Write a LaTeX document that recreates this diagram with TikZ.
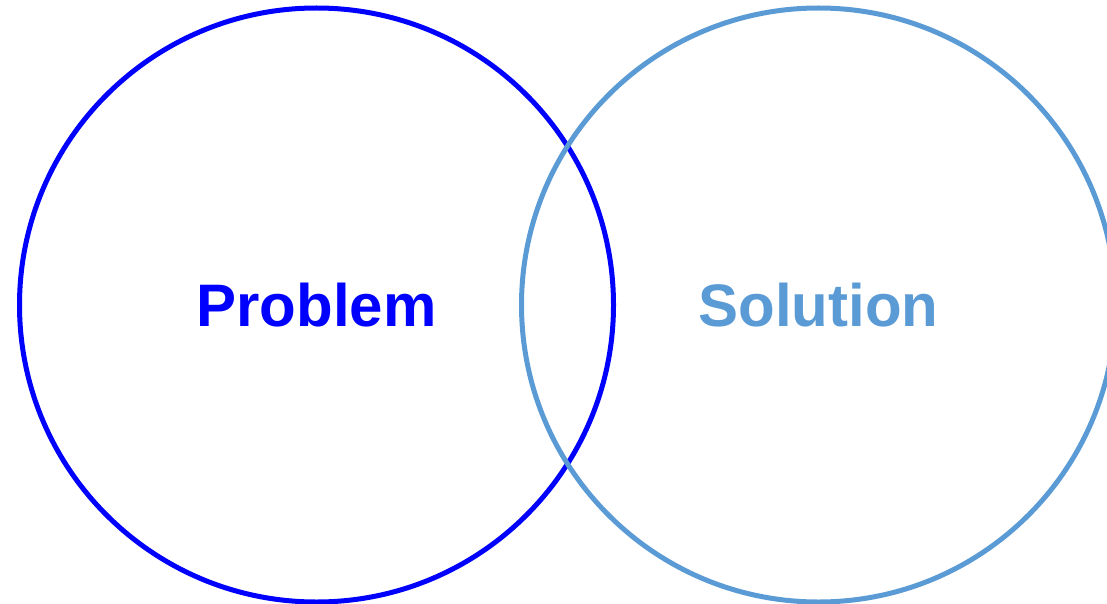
\documentclass[tikz,border=0pt]{standalone}
\usepackage{fontspec}
\setmainfont{Liberation Sans}
\definecolor{probblue}{RGB}{0,0,255}
\definecolor{solblue}{RGB}{91,155,213}
\begin{document}
\begin{tikzpicture}[x=1pt,y=-1pt,
  ring/.style={line width=5pt},
  label/.style={font=\fontsize{60}{60}\selectfont\bfseries, inner sep=0pt, anchor=base}]
\useasboundingbox (0,0) rectangle (1107,604);
\draw[ring, probblue] (316.5,305) circle[radius=297];
\draw[ring, solblue] (818.5,305) circle[radius=297];
\node[label, text=probblue] (problem) at (316.5,326) {Problem};
\node[label, text=solblue] (solution) at (818.5,326) {Solution};
\end{tikzpicture}
\end{document}
